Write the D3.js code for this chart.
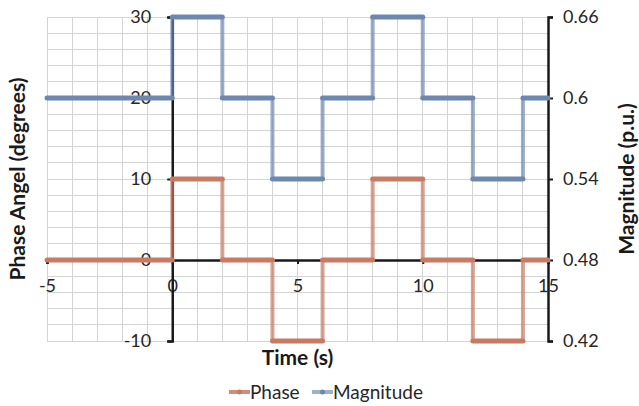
<!DOCTYPE html>
<html>
<head>
<meta charset="utf-8">
<script src="https://cdn.jsdelivr.net/npm/d3@7"></script>
<style>
  html, body { margin: 0; padding: 0; background: #fff; }
  svg { display: block; font-family: Lato, "Open Sans", sans-serif; }
</style>
</head>
<body>
<svg id="chart" width="639" height="406"></svg>
<script>
// Step signals: time breakpoints (s), phase angle (degrees), magnitude (p.u.)
const time      = [-5, 0, 0, 2, 2, 4, 4, 6, 6, 8, 8, 10, 10, 12, 12, 14, 14, 15];
const phase     = [0, 0, 10, 10, 0, 0, -10, -10, 0, 0, 10, 10, 0, 0, -10, -10, 0, 0];
const magnitude = [0.6, 0.6, 0.66, 0.66, 0.6, 0.6, 0.54, 0.54, 0.6, 0.6, 0.66, 0.66, 0.6, 0.6, 0.54, 0.54, 0.6, 0.6];

const xTicks      = [-5, 0, 5, 10, 15];
const phaseTicks  = [-10, 0, 10, 20, 30];
const magTicks    = [0.42, 0.48, 0.54, 0.6, 0.66];

const svg = d3.select("#chart");
const L = 47, R = 548, T = 17, B = 341;

const x  = d3.scaleLinear().domain([-5, 15]).range([L, R]);
const yL = d3.scaleLinear().domain([-10, 30]).range([B, T]);
const yR = d3.scaleLinear().domain([0.42, 0.66]).range([B, T]);

// Grid
const grid = svg.append("g");
grid.selectAll("line.v").data(d3.range(-5, 16, 1)).join("line")
  .attr("x1", d => x(d)).attr("x2", d => x(d))
  .attr("y1", T).attr("y2", B)
  .attr("stroke", "#d4d4d4").attr("stroke-width", 1).attr("shape-rendering", "crispEdges");
grid.selectAll("line.h").data(d3.range(-10, 31, 2)).join("line")
  .attr("x1", L).attr("x2", R)
  .attr("y1", d => yL(d)).attr("y2", d => yL(d))
  .attr("stroke", "#d4d4d4").attr("stroke-width", 1).attr("shape-rendering", "crispEdges");

// Axes crossing at the origin; plain hyphen for negatives
const fmt = d => String(d);
const tickFont = 18;
function styleAxis(g) {
  g.select(".domain").attr("stroke", "#1a1a1a").attr("stroke-width", 2.5);
  g.selectAll(".tick line").attr("stroke", "#1a1a1a").attr("stroke-width", 2);
  g.selectAll(".tick text").attr("font-size", tickFont).attr("fill", "#262626")
    .attr("font-family", "Lato, sans-serif");
}

const xAxis = d3.axisBottom(x).tickValues(xTicks).tickSize(4).tickPadding(15).tickFormat(fmt);
svg.append("g").attr("transform", `translate(0,${yL(0)})`).call(xAxis).call(styleAxis);

const yAxisL = d3.axisLeft(yL).tickValues(phaseTicks).tickSize(5).tickPadding(16).tickFormat(fmt);
svg.append("g").attr("transform", `translate(${x(0)},0)`).call(yAxisL).call(styleAxis);

const yAxisR = d3.axisRight(yR).tickValues(magTicks).tickSize(5).tickPadding(10).tickFormat(fmt);
svg.append("g").attr("transform", `translate(${R},0)`).call(yAxisR).call(styleAxis);

// Series, drawn segment by segment (risers are translucent, flats solid)
function drawSeries(xs, ys, yScale, color) {
  const g = svg.append("g");
  const segs = d3.range(xs.length - 1).map(i => ({
    x1: xs[i], y1: ys[i], x2: xs[i + 1], y2: ys[i + 1]
  })).filter(s => !(s.x1 === s.x2 && s.y1 === s.y2));
  const risers = segs.filter(s => s.x1 === s.x2);
  const flats = segs.filter(s => s.x1 !== s.x2);
  g.selectAll("line.r").data(risers).join("line")
    .attr("x1", d => x(d.x1)).attr("x2", d => x(d.x2))
    .attr("y1", d => yScale(d.y1)).attr("y2", d => yScale(d.y2))
    .attr("stroke", color).attr("stroke-opacity", 0.68).attr("stroke-width", 4);
  g.selectAll("line.f").data(flats).join("line")
    .attr("x1", d => x(d.x1)).attr("x2", d => x(d.x2))
    .attr("y1", d => yScale(d.y1)).attr("y2", d => yScale(d.y2))
    .attr("stroke", color).attr("stroke-width", 5).attr("stroke-linecap", "round");
}
drawSeries(time, magnitude, yR, "#6d87af");
drawSeries(time, phase, yL, "#c67b62");

// Axis titles
const titleFont = 21;
svg.append("text").attr("transform", `translate(25,${(T + B) / 2}) rotate(-90)`)
  .attr("text-anchor", "middle").attr("font-size", titleFont).attr("font-weight", "bold")
  .attr("fill", "#1a1a1a").text("Phase Angel (degrees)");
svg.append("text").attr("transform", `translate(634,${(T + B) / 2}) rotate(-90)`)
  .attr("text-anchor", "middle").attr("font-size", titleFont).attr("font-weight", "bold")
  .attr("fill", "#1a1a1a").text("Magnitude (p.u.)");
svg.append("text").attr("x", x(5)).attr("y", 365)
  .attr("text-anchor", "middle").attr("font-size", titleFont).attr("font-weight", "bold")
  .attr("fill", "#1a1a1a").text("Time (s)");

// Legend
const legend = [
  { name: "Phase", color: "#d08e77", dot: "#c67b62", x0: 229 },
  { name: "Magnitude", color: "#9db0cd", dot: "#6d87af", x0: 312 }
];
const lg = svg.append("g").selectAll("g").data(legend).join("g")
  .attr("transform", d => `translate(${d.x0},392)`);
lg.append("line").attr("x1", 0).attr("x2", 21).attr("y1", 0).attr("y2", 0)
  .attr("stroke", d => d.color).attr("stroke-width", 4);
lg.append("circle").attr("cx", 10.5).attr("cy", 0).attr("r", 2.5).attr("fill", d => d.dot);
lg.append("text").attr("x", 21).attr("y", 7).attr("font-size", 19)
  .attr("fill", "#262626").text(d => d.name);
</script>
</body>
</html>
